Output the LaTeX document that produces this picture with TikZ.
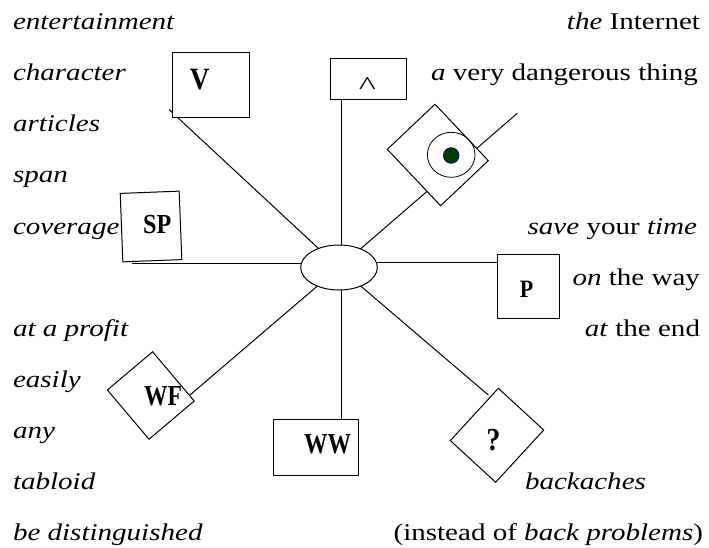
\documentclass[tikz,border=0pt]{standalone}
\usepackage{fontspec}
\setmainfont{Liberation Serif}[FakeStretch=1.21]
\newfontfamily\labfont{Liberation Serif}[FakeStretch=0.88]
\newfontfamily\labfontn{Liberation Serif}[FakeStretch=0.81]
\newfontfamily\caretfont{Liberation Serif}[FakeStretch=1.4]
\usetikzlibrary{shapes.geometric}
\definecolor{dotgreen}{RGB}{0,60,0}
\definecolor{dotblue}{RGB}{0,0,128}
\begin{document}
\begin{tikzpicture}[x=1pt,y=-1pt,
  txt/.style={inner sep=0pt, outer sep=0pt, font={\fontsize{24}{28}\selectfont}},
  lab/.style={inner sep=0pt, outer sep=0pt, font={\labfont\bfseries\fontsize{27.5}{30}\selectfont}},
  labn/.style={inner sep=0pt, outer sep=0pt, font={\labfontn\bfseries\fontsize{29}{32}\selectfont}},
  box/.style={draw, fill=white, line width=1pt, inner sep=0pt, outer sep=0pt, rectangle},
  conn/.style={line width=1pt}]
\useasboundingbox (0,0) rectangle (709,548);

% hub
\node[box, ellipse, minimum width=76.7pt, minimum height=45pt] (ell) at (339,267.5) {};

% connector ends
\coordinate (vend) at (169,109.5);
\coordinate (cfoot) at (341,99.3);
\coordinate (tend) at (517.3,113.3);
\coordinate (spend) at (131.7,263);
\coordinate (pp) at (497,262.3);
\coordinate (wfend) at (190,395);
\coordinate (wwtop) at (341,419.3);
\coordinate (qend) at (488.3,395);

\draw[conn] (ell) -- (vend);
\draw[conn] (ell.north -| cfoot) -- (cfoot);
\draw[conn] (ell) -- (tend);
\draw[conn] (spend -| ell.west) -- (spend);
\draw[conn] (ell.east |- pp) -- (pp);
\draw[conn] (ell) -- (wfend);
\draw[conn] (ell.south -| wwtop) -- (wwtop);
\draw[conn] (ell) -- (qend);

% shapes
\node[box, minimum width=76.7pt, minimum height=65.4pt] (vbox) at (210.7,85) {};
\node[box, minimum width=76pt, minimum height=41pt] (cbox) at (368.7,78.8) {};
\node[box, minimum width=77.6pt, minimum height=65.6pt, rotate=-46.6] (tgt) at (437.8,155) {};
\node[draw, line width=0.8pt, ellipse, minimum width=47.6pt, minimum height=45pt, inner sep=0pt] (ring) at (451.2,154.8) {};
\node[circle, draw=dotblue, fill=dotgreen, minimum size=15.6pt, inner sep=0pt, line width=0.8pt] (dot) at (451.2,155.5) {};
\node[box, minimum width=59pt, minimum height=68.5pt, rotate=2.2] (spbox) at (151,226.5) {};
\node[box, minimum width=62pt, minimum height=64.2pt] (pbox) at (528,286.4) {};
\node[box, minimum width=64.5pt, minimum height=59.2pt, rotate=-49.8] (wfbox) at (150.8,395.5) {};
\node[box, minimum width=85pt, minimum height=55.7pt] (wwbox) at (315.8,447.2) {};
\node[box, minimum width=61.6pt, minimum height=71pt, rotate=-42.6] (qbox) at (497,435.3) {};

% labels
\node[lab, anchor=base, font={\labfont\bfseries\fontsize{31}{34}\selectfont}] (vl) at (199.7,90) {V};
\node[lab, font={\caretfont\fontsize{26}{28}\selectfont}] (cl) at (367.5,86) {\textasciicircum};
\node[lab, anchor=base] (spl) at (157.2,233.3) {SP};
\node[lab, anchor=base, font={\labfont\bfseries\fontsize{25}{28}\selectfont}] (pl) at (526.5,297) {P};
\node[labn, anchor=base] (wfl) at (163,405) {WF};
\node[labn, anchor=base] (wwl) at (327.5,453.3) {WW};
\node[lab, anchor=base, font={\labfont\bfseries\fontsize{32}{34}\selectfont}] (ql) at (493.3,450) {?};

% left column
\node[txt, anchor=base west] (l1) at (13,30) {\textit{entertainment}};
\node[txt, anchor=base west] (l2) at (13,81) {\textit{character}};
\node[txt, anchor=base west] (l3) at (13,132) {\textit{articles}};
\node[txt, anchor=base west] (l4) at (13,183) {\textit{span}};
\node[txt, anchor=base west] (l5) at (13,234) {\textit{coverage}};
\node[txt, anchor=base west] (l6) at (13,336) {\textit{at a profit}};
\node[txt, anchor=base west] (l7) at (13,387) {\textit{easily}};
\node[txt, anchor=base west] (l8) at (13,438) {\textit{any}};
\node[txt, anchor=base west] (l9) at (13,489) {\textit{tabloid}};
\node[txt, anchor=base west] (l10) at (13,540) {\textit{be distinguished}};

% right column
\node[txt, anchor=base east] (r1) at (700,30) {\textit{the} Internet};
\node[txt, anchor=base east] (r2) at (698,81) {\textit{a} very dangerous thing};
\node[txt, anchor=base east] (r3) at (697,234) {\textit{save} your \textit{time}};
\node[txt, anchor=base east] (r4) at (700,285) {\textit{on} the way};
\node[txt, anchor=base east] (r5) at (700,336) {\textit{at} the end};
\node[txt, anchor=base west] (r6) at (525,489) {\textit{backaches}};
\node[txt, anchor=base east] (r7) at (703,540) {(instead of \textit{back problems})};
\end{tikzpicture}
\end{document}
